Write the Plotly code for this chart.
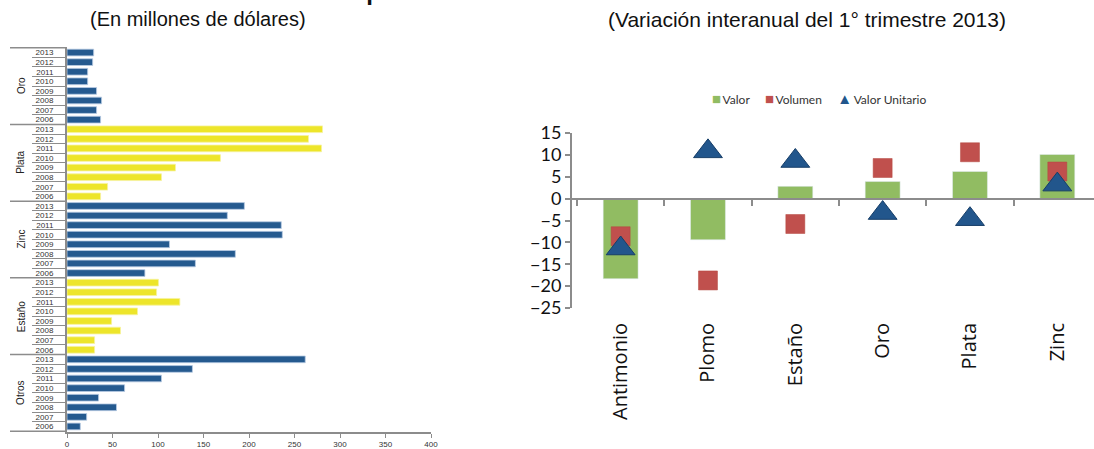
import plotly.graph_objects as go

# ---- Left panel: exports by mineral and year (millions of USD) ----
groups = ["Oro", "Plata", "Zinc", "Estaño", "Otros"]
years = ["2013", "2012", "2011", "2010", "2009", "2008", "2007", "2006"]
oro = [29.3, 28.2, 22.7, 22.7, 32.5, 38.0, 32.5, 36.9]
plata = [280.8, 265.4, 279.7, 168.6, 119.2, 103.8, 44.6, 36.9]
zinc = [194.9, 176.2, 235.5, 236.6, 112.6, 185.0, 141.1, 85.6]
estano = [100.5, 98.4, 124.0, 77.5, 49.0, 58.8, 30.3, 30.3]
otros = [261.8, 137.8, 103.8, 63.3, 34.7, 54.4, 21.6, 14.6]
group_values = [oro, plata, zinc, estano, otros]

# ---- Right panel: year-on-year change, Q1 2013 (%) ----
minerals = ["Antimonio", "Plomo", "Estaño", "Oro", "Plata", "Zinc"]
valor = [-18.3, -9.4, 2.8, 3.9, 6.2, 10.1]
volumen = [-8.6, -18.7, -5.8, 7.0, 10.6, 6.2]
valor_unitario = [-11.4, 10.8, 8.6, -3.3, -4.7, 3.2]

W, H = 1094, 449
BLUE = "#255A8F"
YELLOW = "#EDE52A"
GRAY = "#8C8C8C"
GREEN = "#91BC62"
RED = "#C0504D"
NAVY = "#22568C"


def px_x(p):
    return p / W


def px_y(p):
    return 1 - p / H


fig = go.Figure()

cats = [f"{g} {y}" for g in groups for y in years]
bar_colors = {"Oro": BLUE, "Plata": YELLOW, "Zinc": BLUE, "Estaño": YELLOW, "Otros": BLUE}
for g, vals in zip(groups, group_values):
    c = bar_colors[g]
    fig.add_trace(go.Bar(
        x=vals, y=[f"{g} {y}" for y in years], orientation="h",
        marker=dict(color=c, line=dict(color="#B9CCE3" if c == BLUE else "#F6F2A0", width=0.8)),
        xaxis="x", yaxis="y", showlegend=False, hoverinfo="x+y",
    ))

# right panel: bars on the labelled axis, markers on the overlay drawn above them
fig.add_trace(go.Bar(
    x=minerals, y=valor, name="Valor", marker=dict(color=GREEN),
    xaxis="x2", yaxis="y2", width=0.4,
))
fig.add_trace(go.Scatter(
    x=minerals, y=volumen, name="Volumen", mode="markers",
    marker=dict(symbol="square", size=19, color=RED, line=dict(color="#B5473F", width=0.5)),
    xaxis="x3", yaxis="y2",
))
fig.add_trace(go.Scatter(
    x=minerals, y=valor_unitario, name="Valor Unitario", mode="markers",
    marker=dict(symbol="triangle-up", size=25, color=NAVY, line=dict(color="#173E68", width=1)),
    xaxis="x3", yaxis="y2",
))

y2_range = [-25, 15]
y2_dom = [px_y(308), px_y(133)]
zero_pos = y2_dom[0] + (0 - y2_range[0]) / (y2_range[1] - y2_range[0]) * (y2_dom[1] - y2_dom[0])
x2_range = [-0.557, 5.42]

fig.update_layout(
    width=W, height=H,
    margin=dict(l=0, r=0, t=0, b=0),
    paper_bgcolor="white", plot_bgcolor="white",
    bargap=0.3,
    showlegend=False,
    font=dict(family="Liberation Sans, Arial, sans-serif", color="#222222"),
    xaxis=dict(
        domain=[px_x(67), px_x(431)], anchor="y", range=[0, 400], dtick=50,
        showgrid=False, zeroline=False, showline=True, linecolor=GRAY, linewidth=1.5,
        ticks="outside", ticklen=4, tickcolor=GRAY, tickfont=dict(size=8, color="#333333"),
        automargin=False,
    ),
    yaxis=dict(
        domain=[px_y(432), px_y(47)], anchor="x", type="category",
        categoryorder="array", categoryarray=cats, autorange="reversed",
        tickvals=cats, ticktext=years * len(groups),
        showgrid=False, zeroline=False, showline=True, linecolor=GRAY, linewidth=2,
        ticks="outside", tickson="boundaries", ticklen=33, tickcolor=GRAY, tickwidth=1,
        ticklabelstandoff=10, tickfont=dict(size=8, color="#333333"),
        automargin=False,
    ),
    xaxis2=dict(
        domain=[px_x(572), 1], anchor="y2", type="category",
        categoryorder="array", categoryarray=minerals, range=x2_range,
        showgrid=False, zeroline=False, showline=False, ticks="",
        tickangle=-90, ticklabelstandoff=10,
        tickfont=dict(family="Open Sans, sans-serif", size=20, color="#111111"),
        automargin=False,
    ),
    xaxis3=dict(
        overlaying="x2", anchor="free", position=zero_pos, type="category",
        categoryorder="array", categoryarray=minerals, range=x2_range,
        showgrid=False, zeroline=False, showline=True, linecolor=GRAY, linewidth=2,
        ticks="outside", tickson="boundaries", ticklen=6, tickwidth=2, tickcolor=GRAY,
        showticklabels=False, automargin=False,
    ),
    yaxis2=dict(
        domain=y2_dom, anchor="x2", range=y2_range, dtick=5,
        showgrid=False, zeroline=False, showline=True, linecolor=GRAY, linewidth=2,
        ticks="outside", ticklen=5, tickwidth=2, tickcolor=GRAY,
        tickfont=dict(family="Lato, sans-serif", size=18, color="#111111"),
        automargin=False,
    ),
)

# legend of the right panel, written as a single compact line
legend_items = [("■", GREEN, "Valor"), ("■", RED, "Volumen"), ("▲", NAVY, "Valor Unitario")]
gap = "\u00a0" * 5
legend_text = gap.join(
    f'<span style="color:{c};font-size:15px">{s}</span>\u2009{name}' for s, c, name in legend_items
)
fig.add_annotation(text=legend_text, xref="paper", yref="paper",
                   x=px_x(819), y=px_y(98), xanchor="center", yanchor="middle", showarrow=False,
                   font=dict(family="Lato, sans-serif", size=12, color="#333333"))

# group dividers and rotated group names on the left category axis
n = len(years)
for i in range(len(groups) + 1):
    fig.add_shape(type="line", xref="paper", yref="y",
                  x0=px_x(10), x1=px_x(66), y0=i * n - 0.5, y1=i * n - 0.5,
                  line=dict(color=GRAY, width=1.5))
for i, g in enumerate(groups):
    fig.add_annotation(text=g, xref="paper", yref="y", x=px_x(21), y=i * n + (n - 1) / 2,
                       xanchor="center", yanchor="middle",
                       textangle=-90, showarrow=False, font=dict(size=10, color="#222222"))

# titles
fig.add_annotation(text="<b>Exportaciones de minerales metálicos</b>", xref="paper", yref="paper",
                   x=px_x(555), y=px_y(7), xanchor="center", yanchor="bottom", showarrow=False,
                   font=dict(size=24, color="#111111"))
fig.add_annotation(text="(En millones de dólares)", xref="paper", yref="paper",
                   x=px_x(198), y=px_y(19), xanchor="center", yanchor="middle", showarrow=False,
                   font=dict(size=20, color="#111111"))
fig.add_annotation(text="(Variación interanual del 1° trimestre 2013)", xref="paper", yref="paper",
                   x=px_x(807), y=px_y(19), xanchor="center", yanchor="middle", showarrow=False,
                   font=dict(size=21, color="#111111"))

fig.write_html("out.html")
